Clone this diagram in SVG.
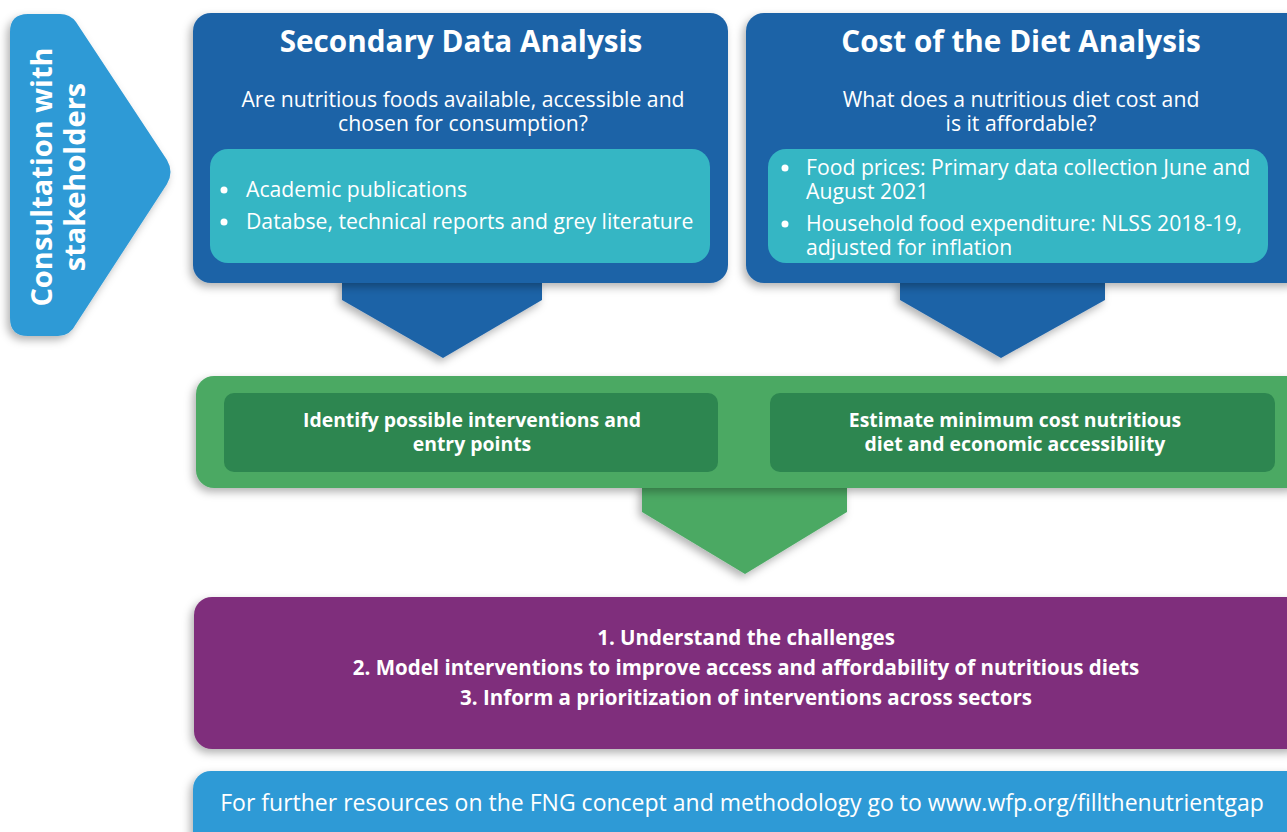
<svg xmlns="http://www.w3.org/2000/svg" width="1287" height="832" viewBox="0 0 1287 832">
<defs>
<filter id="sh" x="-10%" y="-10%" width="120%" height="130%">
<feDropShadow dx="-3" dy="4" stdDeviation="4" flood-color="#000" flood-opacity="0.3"/>
</filter>
<style>
text{font-family:"Open Sans","Liberation Sans",sans-serif;fill:#fff}
.t{font-size:29.7px;font-weight:700;text-anchor:middle}
.q{font-size:21.2px;text-anchor:middle}
.b{font-size:21.2px}
.g{font-size:19.4px;font-weight:700;text-anchor:middle}
.p{font-size:20.5px;font-weight:700;text-anchor:middle}
.f{font-size:23px;text-anchor:middle}
.side{font-size:29px;font-weight:700;text-anchor:middle}
.blue{fill:#1f63a7}
.teal{fill:#35b6c4}
.lblue{fill:#2f9ad6}
.green{fill:#4ba964}
.dgreen{fill:#2d8650}
.purple{fill:#7f2f7c}
</style>
</defs>

<g id="consultation">
<path class="lblue" filter="url(#sh)" d="M28,14 L60,14 Q70,14 76,22 L167,160 Q174,172 167,184 L76,324 Q70,336 58,336 L28,336 Q10,336 10,318 L10,32 Q10,14 28,14 Z"/>
<text class="side" transform="translate(52,177) rotate(-90)">Consultation with</text>
<text class="side" transform="translate(85,177) rotate(-90)">stakeholders</text>
</g>

<g id="secondary">
<path class="blue" filter="url(#sh)" d="M342,280 L542,280 L542,300 L443,358 L342,300 Z"/>
<rect class="blue" filter="url(#sh)" x="193" y="13" width="535" height="270" rx="18"/>
<text class="t" x="461" y="52">Secondary Data Analysis</text>
<text class="q" x="463" y="107">Are nutritious foods available, accessible and</text>
<text class="q" x="463" y="131">chosen for consumption?</text>
<rect class="teal" x="210" y="149" width="500" height="114" rx="18"/>
<circle cx="224" cy="190" r="3.5" fill="#fff"/>
<circle cx="224" cy="222" r="3.5" fill="#fff"/>
<text class="b" x="246" y="197">Academic publications</text>
<text class="b" x="246" y="229">Databse, technical reports and grey literature</text>
</g>

<g id="costdiet">
<path class="blue" filter="url(#sh)" d="M900,280 L1105,280 L1105,300 L1001,358 L900,300 Z"/>
<rect class="blue" filter="url(#sh)" x="746" y="13" width="560" height="270" rx="18"/>
<text class="t" x="1021" y="52">Cost of the Diet Analysis</text>
<text class="q" x="1021" y="107">What does a nutritious diet cost and</text>
<text class="q" x="1021" y="131">is it affordable?</text>
<rect class="teal" x="768" y="149" width="500" height="114" rx="18"/>
<circle cx="785" cy="168" r="3.5" fill="#fff"/>
<circle cx="785" cy="224" r="3.5" fill="#fff"/>
<text class="b" x="806" y="175">Food prices: Primary data collection June and</text>
<text class="b" x="806" y="199">August 2021</text>
<text class="b" x="806" y="231">Household food expenditure: NLSS 2018-19,</text>
<text class="b" x="806" y="255">adjusted for inflation</text>
</g>

<g id="outputs">
<path class="green" filter="url(#sh)" d="M642,484 L847,484 L847,512 L745,574 L642,512 Z"/>
<rect class="green" filter="url(#sh)" x="196" y="376" width="1110" height="112" rx="18"/>
<rect class="dgreen" x="224" y="393" width="494" height="79" rx="10"/>
<rect class="dgreen" x="770" y="393" width="505" height="79" rx="10"/>
<text class="g" x="472" y="427">Identify possible interventions and</text>
<text class="g" x="472" y="451">entry points</text>
<text class="g" x="1015" y="427">Estimate minimum cost nutritious</text>
<text class="g" x="1015" y="451">diet and economic accessibility</text>
</g>

<g id="goals">
<rect class="purple" filter="url(#sh)" x="194" y="597" width="1112" height="152" rx="18"/>
<text class="p" x="746" y="645">1. Understand the challenges</text>
<text class="p" x="746" y="675">2. Model interventions to improve access and affordability of nutritious diets</text>
<text class="p" x="746" y="705">3. Inform a prioritization of interventions across sectors</text>
</g>

<g id="footer">
<rect class="lblue" filter="url(#sh)" x="193" y="771" width="1113" height="90" rx="18"/>
<text class="f" x="742" y="811">For further resources on the FNG concept and methodology go to www.wfp.org/fillthenutrientgap</text>
</g>

<g id="connectors"></g>
</svg>
